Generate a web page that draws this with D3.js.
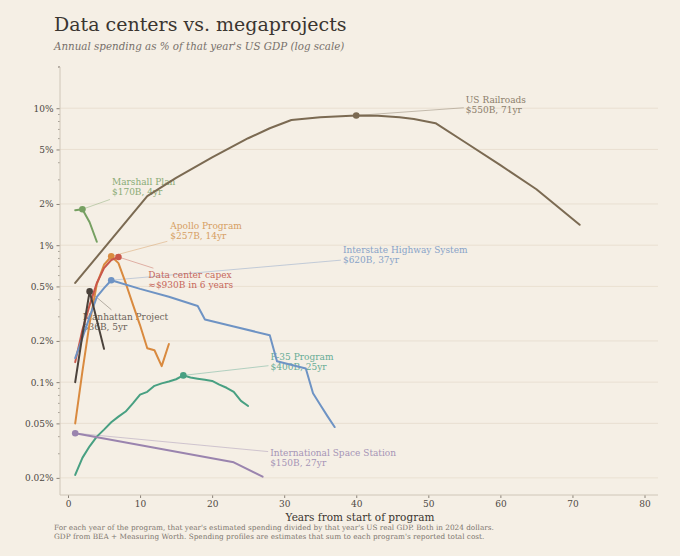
<!DOCTYPE html>
<html>
<head>
<meta charset="utf-8">
<title>Data centers vs. megaprojects</title>
<script src="https://cdn.jsdelivr.net/npm/d3@7"></script>
<style>
  body { margin: 0; background: #f5efe5; }
  svg text { font-family: "DejaVu Serif", serif; }
</style>
</head>
<body>
<div id="chart"></div>
<script>

// series values: [year from start, % of US GDP]
var railroads = [[1,0.53],[11,2.28],[15,3.1],[20,4.38],[25,6.04],[28,7.14],[31,8.2],[35,8.6],[40,8.85],[43,8.8],[46,8.6],[48,8.35],[51,7.78],[55,5.69],[60,3.84],[65,2.56],[71,1.41]];
var marshall = [[1,1.80],[2,1.83],[3,1.47],[4,1.06]];
var apollo = [[1,0.05],[2,0.12],[3,0.27],[4,0.52],[5,0.72],[6,0.83],[7,0.74],[8,0.53],[9,0.37],[10,0.26],[11,0.177],[12,0.171],[13,0.131],[14,0.19]];
var dataCenters = [[1,0.14],[2,0.24],[3,0.365],[4,0.53],[5,0.68],[6,0.78],[7,0.82]];
var interstate = [[1,0.15],[2,0.21],[3,0.30],[4,0.42],[5,0.486],[6,0.555],[10,0.48],[14,0.42],[18,0.36],[19,0.287],[23,0.255],[28,0.22],[29,0.142],[33,0.126],[34,0.083],[35,0.0685],[36,0.0565],[37,0.047]];
var manhattan = [[1,0.10],[2,0.22],[3,0.46],[4,0.284],[5,0.175]];
var f35 = [[1,0.021],[2,0.028],[3,0.034],[4,0.040],[5,0.045],[6,0.051],[7,0.056],[8,0.061],[9,0.070],[10,0.081],[11,0.085],[12,0.094],[13,0.098],[14,0.101],[15,0.105],[16,0.112],[17,0.108],[18,0.106],[19,0.104],[20,0.102],[21,0.096],[22,0.091],[23,0.085],[24,0.073],[25,0.067]];
var iss = [[1,0.0424],[12,0.0332],[23,0.026],[27,0.0204]];

var names = ["US Railroads", "Marshall Plan", "Apollo Program", "Data center capex", "Interstate Highway System", "Manhattan Project", "F-35 Program", "International Space Station"];
var subLabels = ["$550B, 71yr", "$170B, 4yr", "$257B, 14yr", "\u2248$930B in 6 years", "$620B, 37yr", "$36B, 5yr", "$400B, 25yr", "$150B, 27yr"];
var seriesData = [railroads, marshall, apollo, dataCenters, interstate, manhattan, f35, iss];

var yMajor = [0.02, 0.05, 0.1, 0.2, 0.5, 1, 2, 5, 10];
var yMajorLabels = ["0.02%", "0.05%", "0.1%", "0.2%", "0.5%", "1%", "2%", "5%", "10%"];
var xTicks = [0, 10, 20, 30, 40, 50, 60, 70, 80];

// styling / layout (kept apart from the values)
var lineColors = ["#7b6a52", "#76a062", "#d98a3f", "#c9574a", "#6e93c4", "#4b423b", "#48a082", "#9a84ae"];
var labelColors = ["#8c7e6b", "#8aab76", "#d69e63", "#c7675b", "#88a3c8", "#6b6259", "#66ac95", "#a594b6"];
// label anchor (left edge, first line middle) in data units
var labelPos = [[55.2, 11.4], [6.1, 2.87], [14.2, 1.38], [11.15, 0.604], [38.15, 0.93], [2.05, 0.30], [28.1, 0.153], [28.05, 0.0305]];

var width = 680, height = 556;
var svg = d3.select("#chart").append("svg")
    .attr("width", width)
    .attr("height", height);

svg.append("rect").attr("width", width).attr("height", height).attr("fill", "#f5efe5");

var x = d3.scaleLinear().domain([0, 80]).range([68, 644.5]);
var y = d3.scaleLog().domain([0.015, 20]).range([495, 67]);
var left = 60, right = 658;

// grid
svg.append("g").selectAll("line")
    .data(yMajor)
    .enter().append("line")
    .attr("x1", left).attr("x2", right)
    .attr("y1", function(d){ return y(d); })
    .attr("y2", function(d){ return y(d); })
    .attr("stroke", "#e6dccd")
    .attr("stroke-width", 0.8);

// minor y ticks
var minor = [];
[0.01, 0.1, 1, 10].forEach(function(dec){
    for (var k = 1; k <= 9; k++) {
        var v = +(k * dec).toPrecision(3);
        if (v >= 0.015 && v <= 20 && yMajor.indexOf(v) < 0) minor.push(v);
    }
});
minor.push(20);

var yAxis = d3.axisLeft(y).tickValues(yMajor)
    .tickFormat(function(d, i){ return yMajorLabels[i]; })
    .tickSize(3.5).tickPadding(3);
var gy = svg.append("g").attr("transform", "translate(" + left + ",0)").call(yAxis);
gy.select(".domain").remove();
gy.selectAll(".tick line").attr("stroke", "#8a8278");
gy.selectAll(".tick text").attr("fill", "#4d4842").attr("font-size", 9).attr("font-family", "DejaVu Serif");

svg.append("g").selectAll("line")
    .data(minor)
    .enter().append("line")
    .attr("x1", left - 2).attr("x2", left)
    .attr("y1", function(d){ return y(d); })
    .attr("y2", function(d){ return y(d); })
    .attr("stroke", "#8a8278")
    .attr("stroke-width", 0.7);

var xAxis = d3.axisBottom(x).tickValues(xTicks).tickSize(3).tickPadding(3);
var gx = svg.append("g").attr("transform", "translate(0,495)").call(xAxis);
gx.select(".domain").remove();
gx.selectAll(".tick line").attr("stroke", "#8a8278");
gx.selectAll(".tick text").attr("fill", "#4d4842").attr("font-size", 9).attr("font-family", "DejaVu Serif");

// spines
svg.append("line").attr("x1", left).attr("x2", left).attr("y1", 67).attr("y2", 495)
    .attr("stroke", "#cfc6b8").attr("stroke-width", 1);
svg.append("line").attr("x1", left).attr("x2", right).attr("y1", 495).attr("y2", 495)
    .attr("stroke", "#cfc6b8").attr("stroke-width", 1);

var line = d3.line()
    .x(function(d){ return x(d[0]); })
    .y(function(d){ return y(d[1]); });

// labels sit under the lines, like the original
var leaderLayer = svg.append("g");
var labelLayer = svg.append("g");
var lineLayer = svg.append("g");

seriesData.forEach(function(data, i){
    lineLayer.append("path")
        .datum(data)
        .attr("d", line)
        .attr("fill", "none")
        .attr("stroke", lineColors[i])
        .attr("stroke-width", 2)
        .attr("stroke-linejoin", "round")
        .attr("stroke-linecap", "round");

    // marker at the peak year
    var peak = data[d3.maxIndex(data, function(d){ return d[1]; })];
    var mx = x(peak[0]), my = y(peak[1]);
    lineLayer.append("circle")
        .attr("cx", mx).attr("cy", my).attr("r", 3.3)
        .attr("fill", lineColors[i]);

    var tx = x(labelPos[i][0]), ty = y(labelPos[i][1]);
    var t = labelLayer.append("text")
        .attr("x", tx).attr("y", ty)
        .attr("fill", labelColors[i])
        .attr("font-size", 9)
        .attr("dominant-baseline", "central");
    t.append("tspan").attr("x", tx).attr("dy", 0).text(names[i]);
    t.append("tspan").attr("x", tx).attr("dy", 10).text(subLabels[i]);

    // leader: from marker toward label box centre, clipped at the box
    var bb = t.node().getBBox();
    var pad = 2;
    var x0 = bb.x - pad, x1 = bb.x + bb.width + pad, y0 = bb.y - pad, y1 = bb.y + bb.height + pad;
    var cx = (x0 + x1) / 2, cy = (y0 + y1) / 2;
    var dx = mx - cx, dy = my - cy;
    var s = 1;
    if (dx !== 0) s = Math.min(s, Math.abs((x1 - x0) / 2 / dx));
    if (dy !== 0) s = Math.min(s, Math.abs((y1 - y0) / 2 / dy));
    leaderLayer.append("line")
        .attr("x1", mx).attr("y1", my)
        .attr("x2", cx + dx * s).attr("y2", cy + dy * s)
        .attr("stroke", labelColors[i])
        .attr("stroke-opacity", 0.6)
        .attr("stroke-width", 0.8);
});

// titles
svg.append("text").attr("x", 54).attr("y", 31)
    .attr("font-size", 19).attr("fill", "#3a3530")
    .text("Data centers vs. megaprojects");
svg.append("text").attr("x", 54).attr("y", 50)
    .attr("font-size", 10.3).attr("font-style", "italic").attr("fill", "#77706a")
    .text("Annual spending as % of that year's US GDP (log scale)");

svg.append("text").attr("x", 360).attr("y", 521)
    .attr("text-anchor", "middle")
    .attr("font-size", 10.5).attr("fill", "#3a3530")
    .text("Years from start of program");

svg.append("text").attr("x", 54).attr("y", 530)
    .attr("font-size", 7.3).attr("fill", "#7d766e")
    .text("For each year of the program, that year's estimated spending divided by that year's US real GDP. Both in 2024 dollars.");
svg.append("text").attr("x", 54).attr("y", 538.5)
    .attr("font-size", 7.3).attr("fill", "#7d766e")
    .text("GDP from BEA + Measuring Worth. Spending profiles are estimates that sum to each program's reported total cost.");

</script>
</body>
</html>
